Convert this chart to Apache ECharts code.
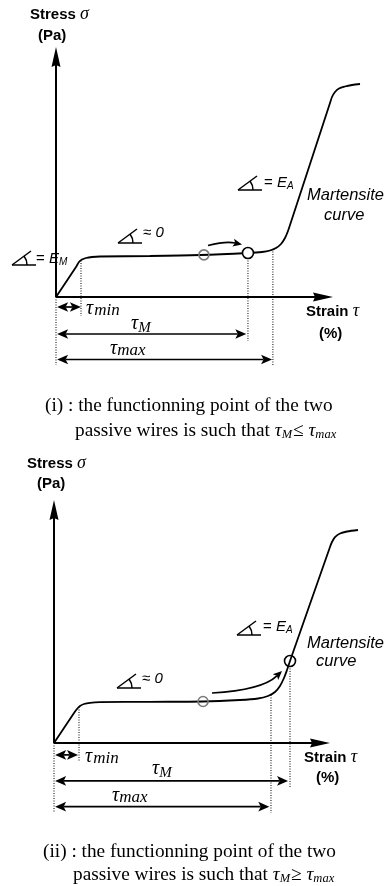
<!DOCTYPE html>
<html>
<head>
<meta charset="utf-8">
<script src="https://cdn.jsdelivr.net/npm/echarts@6/dist/echarts.min.js"></script>
<style>
  html, body { margin: 0; padding: 0; background: #fff; }
  #main { width: 389px; height: 886px; }
</style>
</head>
<body>
<div id="main"></div>
<script>
// ---- Panel (i): functioning point stays on the plateau (tau_M <= tau_max) ----
// strain in %, stress in arbitrary units (schematic)
const strainTipA = 10;
const stressTipA = 100;
const curveA = [
  [0, 0], [0.722, 12.0], [0.830, 14.0], [0.939, 15.0], [1.083, 15.6], [1.300, 16.0],
  [1.588, 16.2], [3.394, 16.4], [5.199, 16.8], [6.931, 17.6], [7.437, 18.0],
  [7.726, 18.6], [7.942, 19.6], [8.123, 21.2], [8.267, 23.6], [8.375, 26.4],
  [8.484, 30.0], [9.892, 77.6], [9.964, 80.0], [10.072, 82.0], [10.217, 83.4],
  [10.433, 84.2], [10.686, 84.8], [10.975, 85.2]
];
const initialPointA = [[5.34, 16.85]];
const workingPointA = [[6.93, 17.6]];
// dotted guides: [strain, stress top, stress bottom]
const guidesA = [[0, 0, -27.2], [0.903, 14.6, -7.6], [6.93, 15.6, -17.6], [7.83, 19.2, -27.6]];
// dimension arrows: [strain from, strain to, stress level]
const spansA = [[0.04, 0.9, -4.0], [0.04, 6.87, -14.8], [0.04, 7.8, -25.0]];
// curved shift arrow: start, control, end
const shiftA = [[5.487, 20.6, 6.137, 22.4, 6.715, 21.0]];

// ---- Panel (ii): functioning point pushed onto the martensite slope (tau_M >= tau_max) ----
const strainTipB = 10;
const stressTipB = 100;
const curveB = [
  [0, 0], [0.725, 12.35], [0.833, 13.99], [0.942, 15.23], [1.087, 16.05], [1.304, 16.54],
  [1.667, 16.79], [3.478, 16.95], [5.399, 17.08], [6.739, 17.70], [7.391, 18.31],
  [7.754, 19.34], [8.007, 20.99], [8.188, 23.46], [8.333, 26.75], [8.442, 30.04],
  [8.551, 33.74], [10.0, 80.66], [10.072, 82.72], [10.181, 84.77], [10.362, 86.21],
  [10.616, 87.04], [11.014, 87.65]
];
const initialPointB = [[5.40, 17.08]];
const workingPointB = [[8.551, 33.74]];
const guidesB = [[0, 0, -28.4], [0.906, 14.8, -7.8], [7.862, 19.75, -28.8], [8.551, 31.7, -18.5]];
const spansB = [[0.04, 0.87, -4.9], [0.04, 8.48, -15.6], [0.04, 7.8, -26.2]];
const shiftB = [[5.725, 20.58, 7.536, 21.81, 8.261, 29.63]];

const SANS = '"Liberation Sans", Arial, sans-serif';
const SERIF = '"Liberation Serif", "Times New Roman", serif';

const chart = echarts.init(document.getElementById('main'), null, { renderer: 'canvas', width: 389, height: 886 });

// ---------- drawing helpers ----------
function head(tip, u, len, half, notch) {
  const nx = -u[1], ny = u[0];
  const bx = tip[0] - u[0] * len, by = tip[1] - u[1] * len;
  return {
    type: 'polygon',
    shape: { points: [
      [tip[0], tip[1]],
      [bx + nx * half, by + ny * half],
      [tip[0] - u[0] * (len - notch), tip[1] - u[1] * (len - notch)],
      [bx - nx * half, by - ny * half]
    ] },
    style: { fill: '#000', stroke: null }
  };
}

function straightArrow(a, b, startHead, endHead, len, half, notch, width) {
  const dx = b[0] - a[0], dy = b[1] - a[1], d = Math.hypot(dx, dy);
  const u = [dx / d, dy / d];
  const inset = len - notch;
  const p0 = startHead ? [a[0] + u[0] * inset, a[1] + u[1] * inset] : a;
  const p1 = endHead ? [b[0] - u[0] * inset, b[1] - u[1] * inset] : b;
  const out = [{ type: 'line', shape: { x1: p0[0], y1: p0[1], x2: p1[0], y2: p1[1] },
    style: { stroke: '#000', lineWidth: width } }];
  if (startHead) out.push(head(a, [-u[0], -u[1]], len, half, notch));
  if (endHead) out.push(head(b, u, len, half, notch));
  return out;
}

function axisSeries(idx, tipX, tipY) {
  return {
    type: 'custom', xAxisIndex: idx, yAxisIndex: idx, z: 3, silent: true,
    data: [[0, 0, tipX, 0], [0, 0, 0, tipY]],
    renderItem(params, api) {
      const a = api.coord([api.value(0), api.value(1)]);
      const b = api.coord([api.value(2), api.value(3)]);
      return { type: 'group', children: straightArrow(a, b, false, true, 20, 4.5, 2, 2) };
    }
  };
}

function guideSeries(idx, data) {
  return {
    type: 'custom', xAxisIndex: idx, yAxisIndex: idx, z: 2, silent: true, data,
    renderItem(params, api) {
      const t = api.coord([api.value(0), api.value(1)]);
      const b = api.coord([api.value(0), api.value(2)]);
      return { type: 'line', shape: { x1: t[0], y1: t[1], x2: b[0], y2: b[1] },
        style: { stroke: '#000', lineWidth: 1, lineDash: [1, 1.5] } };
    }
  };
}

function spanSeries(idx, data) {
  return {
    type: 'custom', xAxisIndex: idx, yAxisIndex: idx, z: 3, silent: true, data,
    renderItem(params, api) {
      const y = api.value(2);
      const a = api.coord([api.value(0), y]);
      const b = api.coord([api.value(1), y]);
      return { type: 'group', children: straightArrow(a, b, true, true, 11, 4.8, 2.5, 1.7) };
    }
  };
}

function shiftSeries(idx, data) {
  return {
    type: 'custom', xAxisIndex: idx, yAxisIndex: idx, z: 3, silent: true, data,
    renderItem(params, api) {
      const s = api.coord([api.value(0), api.value(1)]);
      const c = api.coord([api.value(2), api.value(3)]);
      const e = api.coord([api.value(4), api.value(5)]);
      const dx = e[0] - c[0], dy = e[1] - c[1], d = Math.hypot(dx, dy);
      const u = [dx / d, dy / d];
      const len = 9, notch = 2;
      const e2 = [e[0] - u[0] * (len - notch), e[1] - u[1] * (len - notch)];
      return { type: 'group', children: [
        { type: 'bezierCurve', shape: { x1: s[0], y1: s[1], x2: e2[0], y2: e2[1], cpx1: c[0], cpy1: c[1] },
          style: { stroke: '#000', lineWidth: 1.7, fill: null } },
        head(e, u, len, 4, notch)
      ] };
    }
  };
}

function curveSeries(idx, data) {
  return {
    type: 'line', xAxisIndex: idx, yAxisIndex: idx, data, z: 2, silent: true,
    symbol: 'none', smooth: 0.3, lineStyle: { color: '#000', width: 1.8 }
  };
}

function pointSeries(idx, data, stroke, fill, size) {
  return {
    type: 'scatter', xAxisIndex: idx, yAxisIndex: idx, data, z: 4, silent: true,
    symbol: 'circle', symbolSize: size,
    itemStyle: { color: fill, borderColor: stroke, borderWidth: 1.6, opacity: 1 }
  };
}

// text runs placed on a common baseline
const mctx = document.createElement('canvas').getContext('2d');
function textRun(x, baseline, parts) {
  const els = [];
  let cx = x;
  parts.forEach(p => {
    mctx.font = p.font;
    mctx.textBaseline = 'middle';
    const off = mctx.measureText('H').actualBoundingBoxDescent;
    els.push({ type: 'text', x: cx, y: baseline + (p.dy || 0) - off, silent: true,
      style: { text: p.t, font: p.font, fill: '#000', align: 'left', verticalAlign: 'middle' } });
    mctx.textBaseline = 'alphabetic';
    cx += mctx.measureText(p.t).width + (p.gap || 0);
  });
  return els;
}

function angleGlyph(x, yb) {
  const s = { stroke: '#000', lineWidth: 1.5, fill: 'none' };
  return [
    { type: 'line', silent: true, shape: { x1: x, y1: yb, x2: x + 24, y2: yb }, style: s },
    { type: 'line', silent: true, shape: { x1: x, y1: yb, x2: x + 19, y2: yb - 14 }, style: s },
    { type: 'arc', silent: true, shape: { cx: x, cy: yb, r: 15, startAngle: -0.64, endAngle: 0, clockwise: true }, style: s }
  ];
}

const BOLD = `bold 15px ${SANS}`;
const ITAL = `italic 15px ${SANS}`;
const REG = `15px ${SANS}`;
const SUB = `italic 10px ${SANS}`;
const LABEL = `italic 16.5px ${SANS}`;
const CAP = `19.3px ${SERIF}`;
const CAPI = `italic 19.3px ${SERIF}`;
const CAPS = `italic 12.5px ${SERIF}`;
const SIGMA = `italic 18px ${SERIF}`;
const TAU = `italic 20px ${SERIF}`;
const TAUS = `italic 17px ${SERIF}`;
const TAUM = `italic 15px ${SERIF}`;

const eqE = (x, b, sub) => textRun(x, b, [
  { t: '= ', font: REG }, { t: 'E', font: ITAL }, { t: sub, font: SUB, dy: 2 }
]);
const approx0 = (x, b) => textRun(x, b, [{ t: '≈ ', font: REG }, { t: '0', font: ITAL }]);

const graphics = [].concat(
  // panel (i)
  textRun(30, 19, [{ t: 'Stress ', font: BOLD }, { t: 'σ', font: SIGMA }]),
  textRun(38, 40, [{ t: '(Pa)', font: BOLD }]),
  textRun(306, 316, [{ t: 'Strain ', font: BOLD }, { t: 'τ', font: SIGMA }]),
  textRun(319, 338, [{ t: '(%)', font: BOLD }]),
  textRun(307, 200, [{ t: 'Martensite', font: LABEL }]),
  textRun(324, 220, [{ t: 'curve', font: LABEL }]),
  angleGlyph(12, 265), eqE(36, 263, 'M'),
  angleGlyph(118, 243), approx0(143, 237),
  angleGlyph(238, 190), eqE(264, 187, 'A'),
  textRun(86, 314, [{ t: 'τ', font: TAU, gap: 1 }, { t: 'min', font: TAUS, dy: 1 }]),
  textRun(131, 329, [{ t: 'τ', font: TAU }, { t: 'M', font: TAUM, dy: 3 }]),
  textRun(110, 354, [{ t: 'τ', font: TAU }, { t: 'max', font: TAUS, dy: 1 }]),
  textRun(45, 411, [{ t: '(i) : the functionning point of the two', font: CAP }]),
  textRun(75, 436, [
    { t: 'passive wires is such that ', font: CAP }, { t: 'τ', font: CAPI },
    { t: 'M', font: CAPS, dy: 2, gap: 1 }, { t: '≤ ', font: CAP }, { t: 'τ', font: CAPI },
    { t: 'max', font: CAPS, dy: 2 }
  ]),
  // panel (ii)
  textRun(27, 468, [{ t: 'Stress ', font: BOLD }, { t: 'σ', font: SIGMA }]),
  textRun(37, 488, [{ t: '(Pa)', font: BOLD }]),
  textRun(304, 762, [{ t: 'Strain ', font: BOLD }, { t: 'τ', font: SIGMA }]),
  textRun(316, 782, [{ t: '(%)', font: BOLD }]),
  textRun(307, 648, [{ t: 'Martensite', font: LABEL }]),
  textRun(316, 666, [{ t: 'curve', font: LABEL }]),
  angleGlyph(117, 688), approx0(142, 683),
  angleGlyph(237, 635), eqE(263, 631, 'A'),
  textRun(85, 762, [{ t: 'τ', font: TAU, gap: 1 }, { t: 'min', font: TAUS, dy: 1 }]),
  textRun(152, 774, [{ t: 'τ', font: TAU }, { t: 'M', font: TAUM, dy: 3 }]),
  textRun(112, 801, [{ t: 'τ', font: TAU }, { t: 'max', font: TAUS, dy: 1 }]),
  textRun(43, 857, [{ t: '(ii) : the functionning point of the two', font: CAP }]),
  textRun(73, 880, [
    { t: 'passive wires is such that ', font: CAP }, { t: 'τ', font: CAPI },
    { t: 'M', font: CAPS, dy: 2, gap: 1 }, { t: '≥ ', font: CAP }, { t: 'τ', font: CAPI },
    { t: 'max', font: CAPS, dy: 2 }
  ])
);

const option = {
  animation: false,
  backgroundColor: '#fff',
  grid: [
    { left: 28.3, top: 22, width: 13 * 27.7, height: 150 * 2.5 },
    { left: 26.4, top: 475.7, width: 13 * 27.6, height: 150 * 2.43 }
  ],
  xAxis: [
    { gridIndex: 0, type: 'value', min: -1, max: 12, show: false },
    { gridIndex: 1, type: 'value', min: -1, max: 12, show: false }
  ],
  yAxis: [
    { gridIndex: 0, type: 'value', min: -40, max: 110, show: false },
    { gridIndex: 1, type: 'value', min: -40, max: 110, show: false }
  ],
  series: [
    curveSeries(0, curveA),
    axisSeries(0, strainTipA, stressTipA),
    guideSeries(0, guidesA),
    spanSeries(0, spansA),
    shiftSeries(0, shiftA),
    pointSeries(0, initialPointA, '#7a7a7a', 'rgba(255,255,255,0)', 10),
    pointSeries(0, workingPointA, '#000', '#fff', 11),

    curveSeries(1, curveB),
    axisSeries(1, strainTipB, stressTipB),
    guideSeries(1, guidesB),
    spanSeries(1, spansB),
    shiftSeries(1, shiftB),
    pointSeries(1, initialPointB, '#7a7a7a', 'rgba(255,255,255,0)', 10),
    pointSeries(1, workingPointB, '#000', 'rgba(255,255,255,0)', 11)
  ],
  graphic: { elements: graphics }
};

chart.setOption(option);
</script>
</body>
</html>
